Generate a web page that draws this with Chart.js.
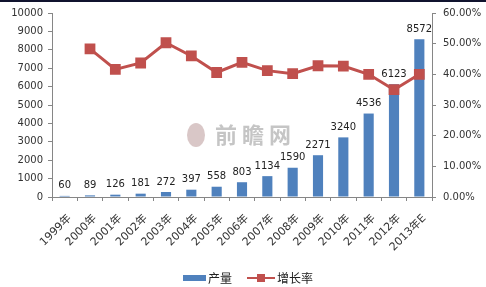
<!DOCTYPE html>
<html><head><meta charset="utf-8">
<script src="https://cdn.jsdelivr.net/npm/chart.js@4/dist/chart.umd.min.js"></script>
<style>html,body{margin:0;padding:0;background:#fff;overflow:hidden}#wrap{width:486px;height:287px;position:relative}</style>
</head><body><div id="wrap"><canvas id="c" width="486" height="287"></canvas></div>
<script>
const categories = ['1999年','2000年','2001年','2002年','2003年','2004年','2005年','2006年','2007年','2008年','2009年','2010年','2011年','2012年','2013年E'];
const output = [60,89,126,181,272,397,558,803,1134,1590,2271,3240,4536,6123,8572];
const growthRate = [null,0.483,0.416,0.437,0.503,0.460,0.406,0.439,0.412,0.402,0.428,0.427,0.400,0.350,0.400];
const seriesNames = ['产量','增长率'];
const watermark = '前 瞻 网';

const BLUE = '#4F81BD', RED = '#C0504D', AXIS = '#868686', TXT = '#333333';
const FONT = 'DejaVu Sans, "Noto Sans CJK SC", sans-serif';
const CJK = '"Noto Sans CJK SC", sans-serif';

const extras = {
  id: 'extras',
  beforeDraw(chart) {
    const ctx = chart.ctx;
    ctx.save();
    ctx.fillStyle = '#fff';
    ctx.fillRect(0, 0, chart.width, chart.height);
    ctx.fillStyle = '#10132e';
    ctx.fillRect(0, 0, chart.width, 2);
    ctx.fillStyle = 'rgba(150,150,150,0.55)';
    ctx.font = 'bold 22px ' + CJK;
    ctx.textAlign = 'left';
    ctx.textBaseline = 'middle';
    ctx.fillText(watermark, 215, 135);
    ctx.fillStyle = 'rgba(170,130,130,0.45)';
    ctx.beginPath();
    ctx.ellipse(196, 135, 9, 12, 0, 0, Math.PI * 2);
    ctx.fill();
    ctx.restore();
  },
  afterDatasetsDraw(chart) {
    const ctx = chart.ctx;
    const meta = chart.getDatasetMeta(1);
    ctx.save();
    ctx.font = '10px ' + FONT;
    ctx.fillStyle = '#222';
    ctx.textAlign = 'center';
    ctx.textBaseline = 'bottom';
    meta.data.forEach((bar, i) => {
      ctx.fillText(String(output[i]), bar.x, bar.y - 5);
    });
    ctx.restore();
  },
  afterDraw(chart) {
    const ctx = chart.ctx;
    ctx.save();
    const y = 278;
    ctx.fillStyle = BLUE;
    ctx.fillRect(183, y - 3, 23, 6);
    ctx.font = '12px ' + CJK;
    ctx.fillStyle = '#222';
    ctx.textBaseline = 'middle';
    ctx.textAlign = 'left';
    ctx.fillText(seriesNames[0], 208, y);
    ctx.strokeStyle = RED;
    ctx.lineWidth = 2;
    ctx.beginPath(); ctx.moveTo(247, y); ctx.lineTo(275, y); ctx.stroke();
    ctx.fillStyle = RED;
    ctx.fillRect(257, y - 4, 8, 8);
    ctx.fillStyle = '#222';
    ctx.fillText(seriesNames[1], 277, y);
    ctx.restore();
  }
};

new Chart(document.getElementById('c'), {
  data: {
    labels: categories,
    datasets: [
      { type: 'line', label: seriesNames[1], data: growthRate, yAxisID: 'y1',
        borderColor: RED, backgroundColor: RED, borderWidth: 3,
        pointStyle: 'rect', pointRadius: 5.5, pointBackgroundColor: RED, pointBorderColor: RED,
        tension: 0, order: 0 },
      { type: 'bar', label: seriesNames[0], data: output, yAxisID: 'y',
        backgroundColor: BLUE, barPercentage: 0.4, categoryPercentage: 1, order: 1 }
    ]
  },
  options: {
    responsive: false, animation: false, devicePixelRatio: 1,
    layout: { padding: { top: 10, left: 0, right: 0, bottom: 0 } },
    plugins: { legend: { display: false }, tooltip: { enabled: false } },
    scales: {
      x: {
        offset: true,
        grid: { display: true, drawOnChartArea: false, drawTicks: true, tickLength: 4, color: AXIS, offset: true },
        border: { color: AXIS },
        ticks: { minRotation: 45, maxRotation: 45, autoSkip: false, color: TXT, font: { size: 11, family: FONT }, padding: 11, labelOffset: 5 },
        afterFit(s) { s.height = 90; }
      },
      y: {
        position: 'left', min: 0, max: 10000,
        grid: { display: true, drawOnChartArea: false, drawTicks: true, tickLength: 4, color: AXIS },
        border: { color: AXIS },
        ticks: { stepSize: 1000, color: TXT, font: { size: 10, family: FONT }, padding: 5,
          callback: v => String(v) },
        afterFit(s) { s.width = 52; }
      },
      y1: {
        position: 'right', min: 0, max: 0.6,
        grid: { display: true, drawOnChartArea: false, drawTicks: true, tickLength: 4, color: AXIS },
        border: { color: AXIS },
        ticks: { stepSize: 0.1, color: TXT, font: { size: 10, family: FONT }, padding: 7,
          callback: v => (v * 100).toFixed(2) + '%' },
        afterFit(s) { s.width = 54; }
      }
    }
  },
  plugins: [extras]
});
</script>
</body></html>
